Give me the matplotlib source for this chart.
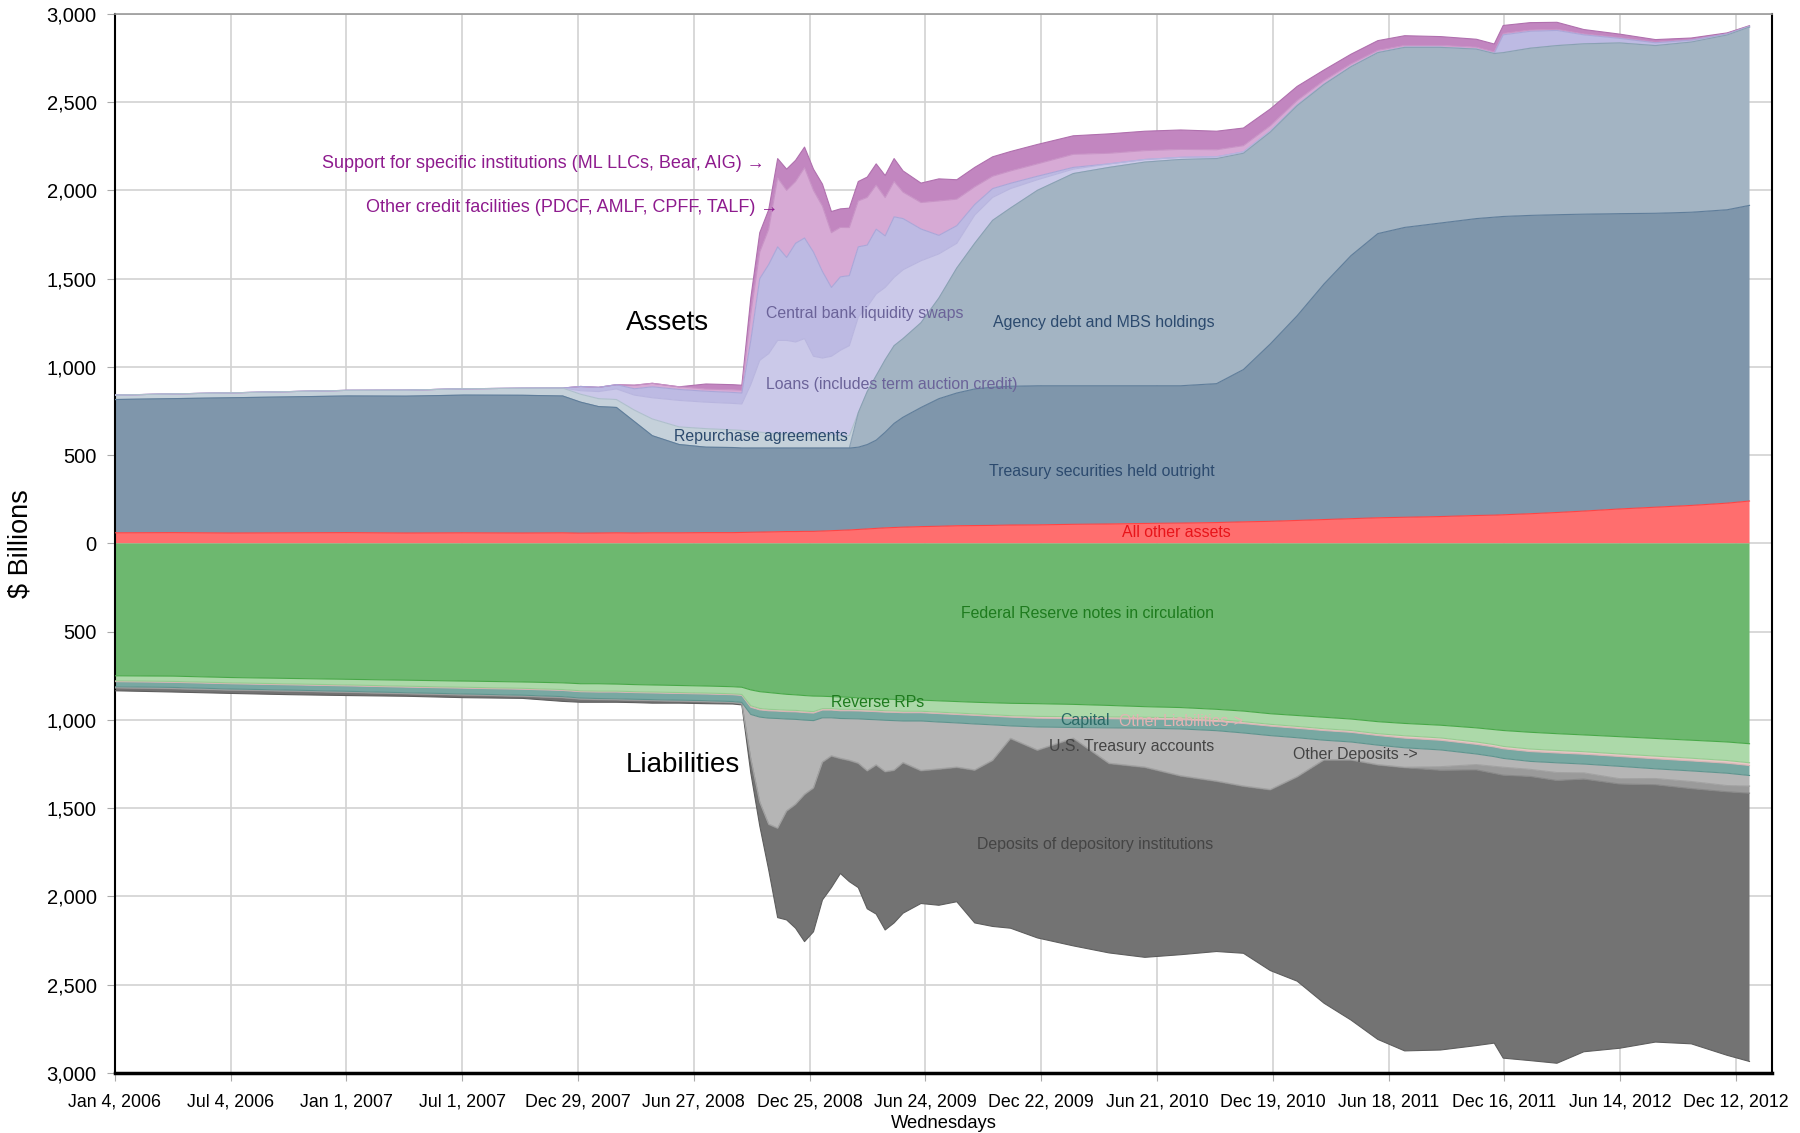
import numpy as np
import matplotlib.pyplot as plt

plt.rcParams['font.family'] = ['Liberation Sans', 'DejaVu Sans']

# weeks since Wed Jan 4, 2006 (sampled, denser during the 2008-09 crisis)
weeks = [0, 13, 26, 39, 52, 65, 78, 91, 100,
         104, 108, 112, 116, 120, 126, 132, 138,
         140, 142, 144, 146, 148, 150, 152, 154, 156, 158, 160, 162, 164, 166, 168, 170, 172, 174, 176,
         180, 184, 188, 192, 196, 200,
         206, 214, 222, 230, 238, 246,
         252, 258, 264, 270, 276, 282, 288,
         296, 304, 308, 310,
         316, 322, 328, 336, 344, 352, 360, 365]

# ---- assets ($ billions) ----
other_assets = [60, 61, 59, 60, 61, 59, 60, 59, 60,
                58, 59, 60, 59, 60, 60, 61, 61,
                62, 63, 64, 65, 66, 67, 67, 68, 68, 70, 72, 74, 76, 79, 82, 85, 88, 90, 92,
                95, 97, 100, 101, 102, 104,
                105, 108, 110, 113, 115, 118,
                122, 125, 130, 135, 140, 145, 148,
                152, 158, 160, 162,
                168, 175, 183, 195, 205, 215, 228, 240]
treasury = [755, 759, 766, 770, 774, 775, 780, 780, 775,
            742, 716, 710, 631, 550, 500, 484, 482,
            478, 477, 476, 475, 474, 473, 473, 472, 472, 470, 468, 466, 464, 466, 478, 500, 542, 590, 623,
            675, 723, 752, 774, 783, 786,
            788, 785, 783, 780, 778, 787,
            863, 1005, 1160, 1335, 1490, 1610, 1642,
            1663, 1682, 1688, 1690,
            1690, 1687, 1682, 1673, 1665, 1661, 1662, 1675]
agency = [0, 0, 0, 0, 0, 0, 0, 0, 0,
          0, 0, 0, 0, 0, 0, 0, 0,
          0, 0, 0, 0, 0, 0, 0, 0, 0, 0, 0, 0, 0, 195, 300, 365, 410, 440, 445,
          480, 570, 708, 825, 945, 1010,
          1107, 1202, 1237, 1267, 1282, 1275,
          1225, 1200, 1190, 1130, 1070, 1025, 1020,
          995, 960, 927, 928,
          947, 958, 965, 967, 950, 964, 990, 1010]
repos = [25, 27, 28, 30, 32, 34, 36, 40, 45,
         45, 45, 45, 65, 95, 100, 105, 100,
         100, 95, 90, 85, 80, 80, 80, 80, 80, 80, 75, 70, 70, 0, 0, 0, 0, 0, 0,
         0, 0, 0, 0, 0, 0,
         0, 0, 0, 0, 0, 0,
         0, 0, 0, 0, 0, 0, 0,
         0, 0, 0, 0,
         0, 0, 0, 0, 0, 0, 0, 0]
loans = [0, 0, 0, 0, 0, 0, 0, 0, 0,
         20, 40, 60, 85, 120, 150, 150, 150,
         150, 265, 407, 450, 530, 530, 521, 540, 440, 430, 445, 484, 510, 542, 480, 463, 410, 387, 390,
         351, 250, 140, 160, 130, 110,
         60, 25, 20, 15, 12, 10,
         8, 6, 4, 2, 1, 1, 1,
         1, 1, 1, 1,
         1, 1, 1, 1, 1, 1, 1, 1]
swaps = [0, 0, 0, 0, 0, 0, 0, 0, 0,
         24, 24, 24, 36, 62, 62, 62, 62,
         62, 250, 463, 505, 530, 470, 559, 570, 590, 490, 390, 416, 397, 398, 350, 367, 292, 343, 290,
         180, 105, 100, 60, 50, 30,
         20, 10, 0, 0, 0, 0,
         0, 0, 0, 0, 0, 0, 0,
         0, 0, 0, 100,
         95, 85, 50, 25, 15, 10, 5, 3]
other_credit = [0, 0, 0, 0, 0, 0, 0, 0, 0,
                0, 0, 0, 20, 20, 15, 12, 15,
                15, 150, 150, 200, 390, 380, 350, 398, 350, 370, 310, 280, 272, 260, 270, 250, 217, 200, 150,
                150, 195, 150, 100, 70, 70,
                70, 74, 60, 50, 45, 40,
                35, 30, 25, 20, 15, 12, 10,
                10, 10, 8, 8,
                7, 6, 5, 4, 3, 2, 1, 1]
support = [0, 0, 0, 0, 0, 0, 0, 0, 0,
           0, 0, 0, 0, 0, 0, 29, 29,
           29, 90, 110, 110, 110, 120, 120, 117, 120, 125, 120, 105, 110, 110, 115, 120, 125, 130, 120,
           110, 125, 110, 110, 110, 110,
           110, 105, 110, 110, 110, 105,
           100, 95, 80, 60, 55, 55, 55,
           50, 45, 45, 45,
           42, 40, 25, 20, 15, 10, 5, 3]

# ---- liabilities ($ billions, drawn downward) ----
notes = [750, 752, 760, 765, 770, 775, 780, 785, 790,
         795, 795, 797, 800, 802, 805, 808, 812,
         815, 830, 840, 845, 850, 855, 858, 862, 865, 866, 868, 870, 872, 875, 878, 880, 882, 884, 886,
         888, 892, 896, 900, 903, 906,
         908, 912, 918, 925, 930, 940,
         950, 965, 975, 985, 995, 1010, 1020,
         1030, 1045, 1055, 1060,
         1070, 1078, 1085, 1095, 1105, 1115, 1125, 1135]
reverse_rps = [28, 30, 30, 31, 32, 34, 35, 36, 38,
               40, 42, 40, 40, 40, 40, 40, 40,
               41, 90, 95, 95, 92, 90, 88, 88, 88, 70, 68, 70, 68, 66, 65, 65, 66, 65, 65,
               63, 64, 65, 66, 68, 70,
               72, 70, 65, 60, 58, 58,
               60, 60, 62, 65, 65, 68, 70,
               72, 80, 85, 90,
               95, 95, 95, 98, 100, 102, 105, 108]
other_liab = [5, 5, 5, 5, 5, 5, 5, 5, 5,
              5, 5, 5, 5, 5, 5, 5, 5,
              5, 8, 8, 8, 8, 8, 8, 8, 8, 8, 8, 8, 8, 8, 8, 8, 8, 8, 8,
              8, 8, 8, 8, 8, 8,
              10, 10, 10, 10, 10, 10,
              10, 10, 10, 10, 10, 10, 13,
              13, 13, 13, 13,
              14, 14, 14, 14, 15, 15, 15, 15]
capital = [29, 29, 30, 30, 31, 32, 33, 34, 35,
           36, 37, 38, 38, 38, 38, 38, 39,
           40, 41, 41, 42, 42, 42, 43, 43, 43, 44, 44, 44, 45, 45, 46, 46, 46, 47, 47,
           47, 48, 48, 49, 49, 50,
           50, 51, 52, 52, 53, 53,
           54, 54, 54, 55, 55, 55, 55,
           55, 55, 55, 55,
           56, 56, 56, 56, 57, 57, 57, 57]
treasury_accts = [5, 6, 5, 5, 5, 5, 5, 5, 5,
                  5, 5, 5, 5, 5, 5, 5, 5,
                  5, 250, 480, 600, 620, 520, 480, 420, 380, 250, 215, 225, 235, 250, 290, 255, 290, 280, 235,
                  280, 265, 250, 260, 200, 70,
                  130, 60, 200, 220, 265, 285,
                  300, 305, 220, 110, 100, 110, 110,
                  95, 60, 55, 50,
                  45, 55, 50, 70, 55, 60, 70, 60]
other_deposits = [2, 2, 2, 2, 2, 2, 2, 2, 2,
                  2, 2, 2, 2, 2, 2, 2, 2,
                  2, 3, 3, 3, 3, 3, 3, 3, 3, 3, 3, 3, 3, 3, 3, 3, 3, 3, 3,
                  3, 3, 3, 3, 3, 3,
                  3, 3, 3, 3, 3, 3,
                  3, 3, 3, 3, 3, 3, 3,
                  20, 30, 40, 45,
                  40, 45, 35, 30, 35, 40, 35, 40]
deposits = [16, 18, 18, 19, 17, 13, 14, 11, 20,
            17, 14, 13, 12, 13, 10, 10, 7,
            7, 78, 133, 257, 505, 615, 700, 832, 813, 779, 744, 650, 685, 703, 780, 843, 895, 863, 851,
            751, 770, 760, 864, 939, 1073,
            1062, 1174, 1072, 1075, 1011, 963,
            945, 1023, 1156, 1377, 1472, 1554, 1604,
            1585, 1562, 1528, 1603,
            1610, 1602, 1545, 1497, 1458, 1446, 1493, 1520]

tick_labels = ['Jan 4, 2006', 'Jul 4, 2006', 'Jan 1, 2007', 'Jul 1, 2007', 'Dec 29, 2007',
               'Jun 27, 2008', 'Dec 25, 2008', 'Jun 24, 2009', 'Dec 22, 2009', 'Jun 21, 2010',
               'Dec 19, 2010', 'Jun 18, 2011', 'Dec 16, 2011', 'Jun 14, 2012', 'Dec 12, 2012']

days = np.array(weeks) * 7

fig = plt.figure(figsize=(18, 11.33), dpi=100)
ax = fig.add_axes([0.0638, 0.053, 0.9206, 0.9348])

asset_layers = [(other_assets, '#ff6e6e', '#ff4444'),
                (treasury, '#7f96ab', '#5f7d9a'),
                (agency, '#a3b4c3', '#8aa0b4'),
                (repos, '#c5d1da', '#aebfcc'),
                (loans, '#cbc9e9', '#b8b5df'),
                (swaps, '#bdbae3', '#aaa6d8'),
                (other_credit, '#d7aad5', '#c893c6'),
                (support, '#c286c0', '#b070ae')]
liab_layers = [(notes, '#6db86f', '#48a848'),
               (reverse_rps, '#acd9a9', '#94cc90'),
               (other_liab, '#e6c9c6', '#d9b4b4'),
               (capital, '#78a8a2', '#5f948e'),
               (treasury_accts, '#b5b5b5', '#a2a2a2'),
               (other_deposits, '#9a9a9a', '#888888'),
               (deposits, '#737373', '#5e5e5e')]

for layers, sign in [(asset_layers, 1), (liab_layers, -1)]:
    base = np.zeros(len(days))
    edges = []
    for vals, fc, ec in layers:
        top = base + sign * np.array(vals, dtype=float)
        ax.fill_between(days, base, top, facecolor=fc, edgecolor='none', zorder=2)
        edges.append((top, ec))
        base = top
    for top, ec in reversed(edges):
        ax.plot(days, top, color=ec, lw=0.8, zorder=3)

# axes styling
ax.set_xlim(0, 2590)
ax.set_ylim(-3000, 3000)
yt = np.arange(-3000, 3001, 500)
ax.set_yticks(yt)
ax.set_yticklabels([f'{abs(v):,}' for v in yt])
ax.set_xticks(np.arange(15) * 181)
ax.set_xticklabels(tick_labels)
ax.grid(True, color='#d2d2d2', lw=1.2, zorder=0)
ax.set_axisbelow(True)
ax.tick_params(axis='y', length=6, color='#aaaaaa', pad=7, labelsize=14.5)
ax.tick_params(axis='x', length=6, color='#aaaaaa', pad=9, labelsize=12.8)
for s in ['left', 'right']:
    ax.spines[s].set_color('black')
    ax.spines[s].set_linewidth(1.5)
ax.spines['bottom'].set_color('black')
ax.spines['bottom'].set_linewidth(2.5)
ax.spines['top'].set_color('#999999')
ax.spines['top'].set_linewidth(1.2)
ax.set_ylabel(r'\$ Billions', fontsize=19.5)
ax.yaxis.set_label_coords(-0.049, 0.5)
ax.set_xlabel('Wednesdays', fontsize=13.2, labelpad=3)

# annotations
purple = '#8e1b8e'
ax.text(1016, 2150, 'Support for specific institutions (ML LLCs, Bear, AIG) \u2192',
        ha='right', va='center', color=purple, fontsize=13, zorder=5)
ax.text(1037, 1901, 'Other credit facilities (PDCF, AMLF, CPFF, TALF) \u2192',
        ha='right', va='center', color=purple, fontsize=13, zorder=5)
ax.text(864, 1250, 'Assets', ha='center', va='center', fontsize=20, zorder=5)
ax.text(888, -1254, 'Liabilities', ha='center', va='center', fontsize=20, zorder=5)

lab = dict(va='center', fontsize=11.4, zorder=5)
ax.text(1017, 1305, 'Central bank liquidity swaps', ha='left', color='#6b6399', **lab)
ax.text(1017, 899, 'Loans (includes term auction credit)', ha='left', color='#6b6399', **lab)
ax.text(1546, 1250, 'Agency debt and MBS holdings', ha='center', color='#2c4a6e', **lab)
ax.text(1010, 603, 'Repurchase agreements', ha='center', color='#2c4a6e', **lab)
ax.text(1542, 406, 'Treasury securities held outright', ha='center', color='#2c4a6e', **lab)
ax.text(1659, 60, 'All other assets', ha='center', color='#e8141a', **lab)
ax.text(1520, -400, 'Federal Reserve notes in circulation', ha='center', color='#1e7b1e', **lab)
ax.text(1193, -900, 'Reverse RPs', ha='center', color='#1e7b1e', **lab)
ax.text(1517, -1005, 'Capital', ha='center', color='#2a6a66', **lab)
ax.text(1570, -1010, 'Other Liabilities->', ha='left', color='#e3b3b3', **lab)
ax.text(1590, -1152, 'U.S. Treasury accounts', ha='center', color='#444444', **lab)
ax.text(1842, -1196, 'Other Deposits ->', ha='left', color='#444444', **lab)
ax.text(1532, -1707, 'Deposits of depository institutions', ha='center', color='#444444', **lab)

fig.savefig('out.png', dpi=100)
